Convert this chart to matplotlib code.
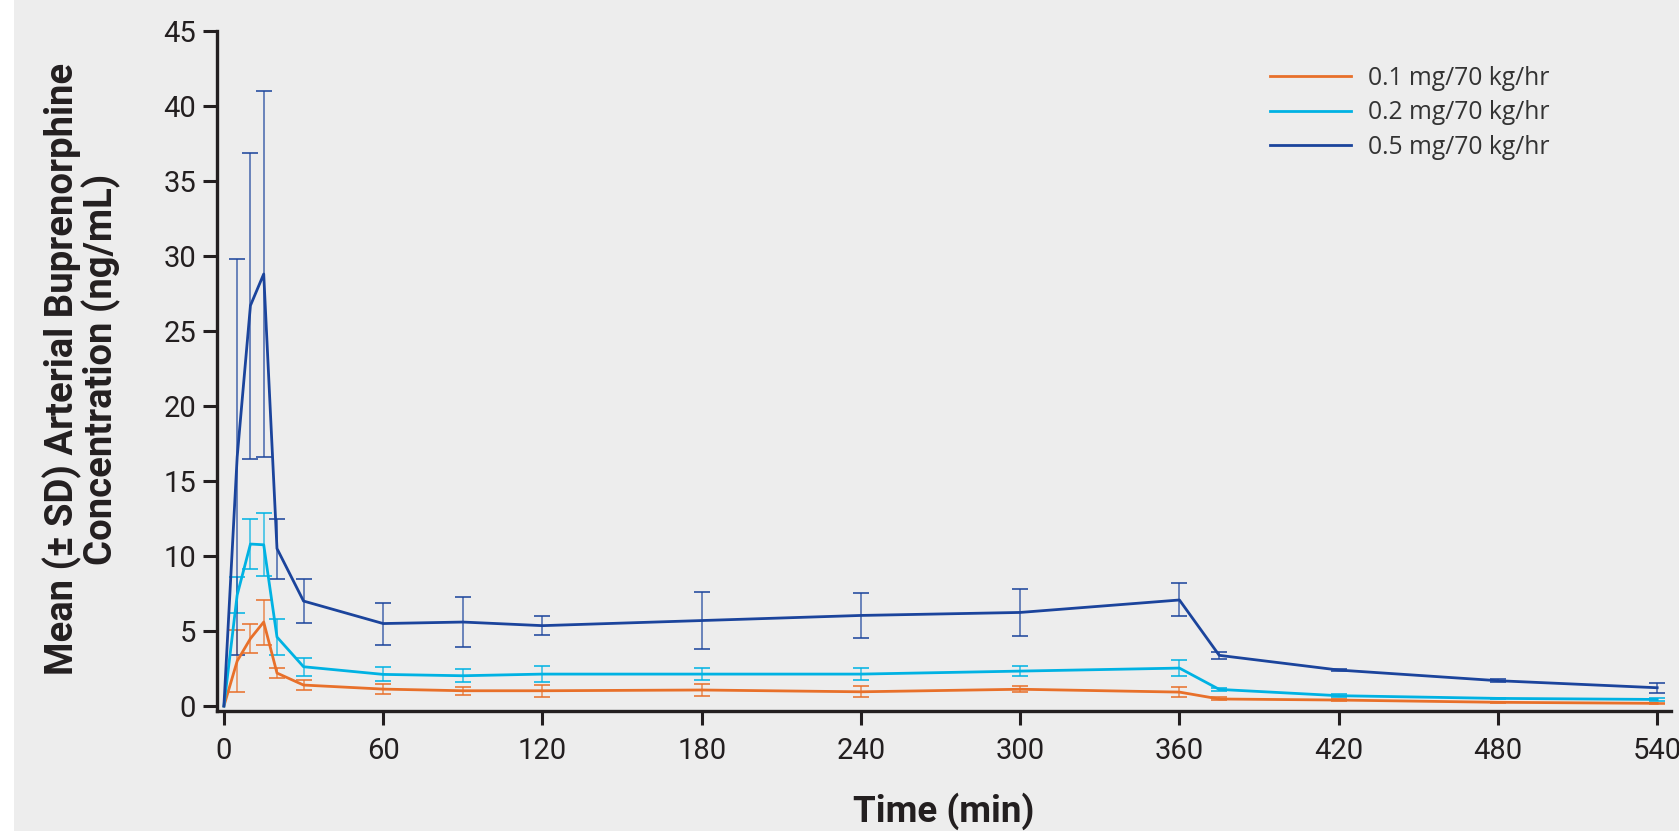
import matplotlib
matplotlib.use('Agg')
import matplotlib.pyplot as plt
from matplotlib.patches import Rectangle

# sampling times (min)
times = [0, 5, 10, 15, 20, 30, 60, 90, 120, 180, 240, 300, 360, 375, 420, 480, 540]
x_ticks = [0, 60, 120, 180, 240, 300, 360, 420, 480, 540]
y_ticks = [0, 5, 10, 15, 20, 25, 30, 35, 40, 45]

labels = ['0.1 mg/70 kg/hr', '0.2 mg/70 kg/hr', '0.5 mg/70 kg/hr']
colors = ['#e8702a', '#00b2e3', '#1b449c']

# mean and SD (ng/mL)
mean_01 = [0, 3.0, 4.5, 5.6, 2.2, 1.4, 1.13, 1.02, 1.02, 1.07, 0.95, 1.12, 0.93, 0.47, 0.40, 0.25, 0.18]
sd_01 = [0, 2.05, 0.95, 1.5, 0.36, 0.33, 0.33, 0.28, 0.39, 0.4, 0.38, 0.19, 0.33, 0.1, 0.05, 0.05, 0.04]

mean_02 = [0, 7.4, 10.8, 10.75, 4.6, 2.62, 2.11, 2.02, 2.13, 2.13, 2.13, 2.33, 2.53, 1.11, 0.69, 0.51, 0.44]
sd_02 = [0, 1.17, 1.65, 2.1, 1.17, 0.6, 0.47, 0.44, 0.55, 0.4, 0.42, 0.31, 0.52, 0.1, 0.1, 0.05, 0.08]

mean_05 = [0, 16.6, 26.7, 28.8, 10.5, 7.0, 5.5, 5.6, 5.36, 5.7, 6.04, 6.24, 7.07, 3.38, 2.4, 1.69, 1.22]
sd_05 = [0, 13.2, 10.2, 12.2, 2.0, 1.45, 1.4, 1.68, 0.61, 1.9, 1.48, 1.57, 1.1, 0.25, 0.05, 0.1, 0.33]

means = [mean_01, mean_02, mean_05]
sds = [sd_01, sd_02, sd_05]

plt.rcParams['font.family'] = ['Roboto', 'DejaVu Sans']
ink = '#231f20'

fig = plt.figure(figsize=(16.79, 8.31), dpi=100, facecolor='white')
# grey panel, white strip on the left edge
fig.patches.append(Rectangle((14 / 1679, 0), 1, 1, transform=fig.transFigure,
                             facecolor='#ededed', edgecolor='none', zorder=-1))

ax = fig.add_axes([217 / 1679, 1 - 711 / 831, 1454 / 1679, 680 / 831])
ax.set_facecolor('none')

handles = []
for m, s, c, lab in zip(means, sds, colors, labels):
    cont = ax.errorbar(times, m, yerr=s, color=c, lw=2.0, elinewidth=1.1,
                       capsize=6, capthick=1.4, errorevery=(1, 1), label=lab)
    for cap in cont[1]:
        cap.set_alpha(0.8)
    for bar in cont[2]:
        bar.set_alpha(0.8)
    handles.append(cont[0])

ax.set_xlim(-2.6, 545.2)
ax.set_ylim(-0.33, 45)
ax.set_xticks(x_ticks)
ax.set_yticks(y_ticks)

for side in ['top', 'right']:
    ax.spines[side].set_visible(False)
for side in ['left', 'bottom']:
    ax.spines[side].set_linewidth(2.4)
    ax.spines[side].set_color(ink)

ax.tick_params(direction='out', length=10, width=2.2, color=ink,
               labelcolor=ink, labelsize=21)
ax.tick_params(axis='y', pad=5)
ax.tick_params(axis='x', pad=9)

fig.text(82 / 1679, 1 - 369 / 831,
         'Mean (± SD) Arterial Buprenorphine\nConcentration (ng/mL)',
         rotation=90, ha='center', va='center', fontsize=27.5,
         fontweight='bold', linespacing=1.0, color=ink)
fig.text(944 / 1679, 1 - 822 / 831, 'Time (min)', ha='center',
         va='baseline', fontsize=26.5, fontweight='bold', color=ink)

leg = ax.legend(handles=handles, labels=labels, loc='upper left',
                bbox_to_anchor=(1270 / 1679, 1 - 66 / 831),
                bbox_transform=fig.transFigure, frameon=False,
                prop={'family': 'Open Sans', 'size': 17.7},
                handlelength=3.3, handletextpad=0.7, labelspacing=0.38,
                borderpad=0, borderaxespad=0, labelcolor='#333333')

fig.savefig('out.png', dpi=100, facecolor=fig.get_facecolor())
